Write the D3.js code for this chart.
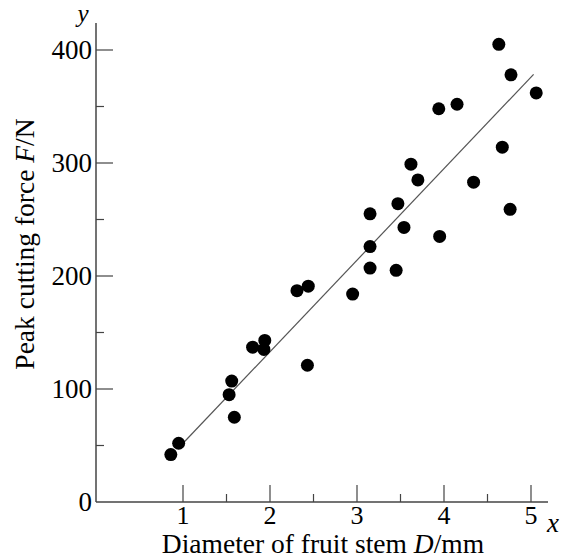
<!DOCTYPE html>
<html>
<head>
<meta charset="utf-8">
<script src="https://cdn.jsdelivr.net/npm/d3@7"></script>
<style>
  body { margin: 0; background: #fff; }
  text { font-family: "Liberation Serif", "Times New Roman", serif; fill: #000; }
</style>
</head>
<body>
<div id="chart"></div>
<script>
// stem diameter (mm) and peak cutting force (N)
const diameter = [0.86, 0.95, 1.53, 1.56, 1.59, 1.80, 1.93, 1.94, 2.31, 2.44, 2.43, 2.95,
  3.15, 3.15, 3.15, 3.45, 3.47, 3.54, 3.62, 3.70, 3.94, 3.95, 4.15, 4.34, 4.63, 4.67, 4.76, 4.77, 5.06];
const force = [42, 52, 95, 107, 75, 137, 135, 143, 187, 191, 121, 184,
  255, 226, 207, 205, 264, 243, 299, 285, 348, 235, 352, 283, 405, 314, 259, 378, 362];
// fitted line  F = a*D + b
const fitX = [1.0, 5.03];
const fitA = 81, fitB = -29;
const xTicks = [1, 2, 3, 4, 5];
const yTicks = [0, 100, 200, 300, 400];

const width = 561, height = 558;
const ox = 96, oy = 502;

const svg = d3.select("#chart").append("svg")
  .attr("width", width)
  .attr("height", height);

const x = d3.scaleLinear().domain([0, 5]).range([ox, ox + 435]);
const y = d3.scaleLinear().domain([0, 400]).range([oy, oy - 452]);

const axisColor = "#444";

// axes lines
svg.append("line").attr("x1", ox).attr("x2", 548).attr("y1", oy).attr("y2", oy)
  .attr("stroke", axisColor).attr("stroke-width", 1.5);
svg.append("line").attr("x1", ox).attr("x2", ox).attr("y1", 23).attr("y2", oy)
  .attr("stroke", axisColor).attr("stroke-width", 1.5);

// x ticks (pointing up, inside)
const xMinor = d3.range(0.5, 5.01, 0.5).filter(v => v >= 1);
svg.selectAll(".xt").data(xMinor).enter().append("line")
  .attr("x1", d => x(d)).attr("x2", d => x(d))
  .attr("y1", oy).attr("y2", d => oy - (Number.isInteger(d) ? 17 : 8))
  .attr("stroke", axisColor).attr("stroke-width", 1.2);

svg.selectAll(".xl").data(xTicks).enter().append("text")
  .attr("x", d => x(d)).attr("y", 524)
  .attr("text-anchor", "middle")
  .style("font-size", "26px")
  .text(d => d);

// y ticks (pointing right, inside)
const yMinor = d3.range(50, 401, 50);
svg.selectAll(".yt").data(yMinor).enter().append("line")
  .attr("x1", ox).attr("x2", d => ox + (d % 100 === 0 ? 17 : 8))
  .attr("y1", d => y(d)).attr("y2", d => y(d))
  .attr("stroke", axisColor).attr("stroke-width", 1.2);

svg.selectAll(".yl").data(yTicks).enter().append("text")
  .attr("x", 92).attr("y", d => y(d))
  .attr("dy", "0.34em")
  .attr("text-anchor", "end")
  .style("font-size", "27px")
  .text(d => d);

// axis letters
svg.append("text").attr("x", 553).attr("y", 532).attr("text-anchor", "middle")
  .style("font-size", "27px").style("font-style", "italic").text("x");
svg.append("text").attr("x", 83).attr("y", 22).attr("text-anchor", "middle")
  .style("font-size", "25px").style("font-style", "italic").text("y");

// axis titles
const xt = svg.append("text").attr("x", 323).attr("y", 553).attr("text-anchor", "middle")
  .style("font-size", "27.5px");
xt.append("tspan").text("Diameter of fruit stem ");
xt.append("tspan").style("font-style", "italic").text("D");
xt.append("tspan").text("/mm");

const yt = svg.append("text")
  .attr("transform", "translate(34,244) rotate(-90)")
  .attr("text-anchor", "middle")
  .style("font-size", "27.5px");
yt.append("tspan").text("Peak cutting force ");
yt.append("tspan").style("font-style", "italic").text("F");
yt.append("tspan").text("/N");

// regression line
svg.append("line")
  .attr("x1", x(fitX[0])).attr("y1", y(fitA * fitX[0] + fitB))
  .attr("x2", x(fitX[1])).attr("y2", y(fitA * fitX[1] + fitB))
  .attr("stroke", "#555").attr("stroke-width", 1.2);

// points
svg.selectAll(".pt").data(diameter).enter().append("circle")
  .attr("cx", d => x(d))
  .attr("cy", (d, i) => y(force[i]))
  .attr("r", 6.5)
  .attr("fill", "#000");
</script>
</body>
</html>
